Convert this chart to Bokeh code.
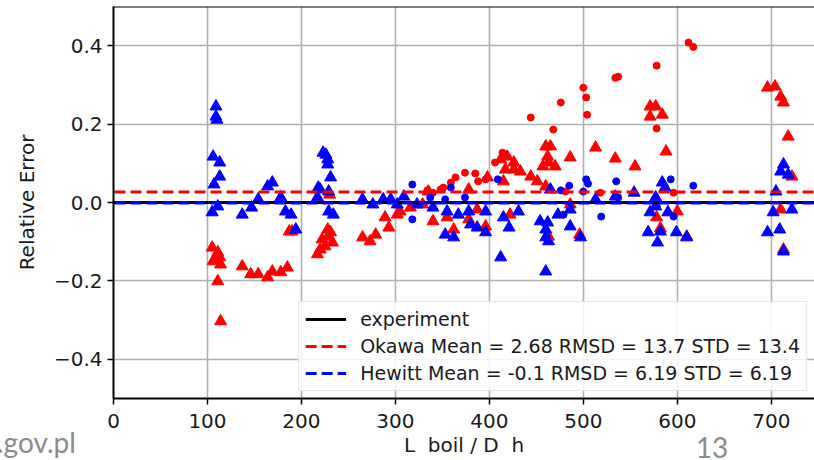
from bokeh.plotting import figure
from bokeh.models import (Legend, LegendItem, FixedTicker, CustomJSTickFormatter,
                          Range1d, Span)
from bokeh.embed import file_html
from bokeh.resources import INLINE

# ---------------- data ----------------
x_ticks = [0, 100, 200, 300, 400, 500, 600, 700]
y_ticks = [-0.4, -0.2, 0.0, 0.2, 0.4]

okawa_tri_x = [105, 111, 108, 114, 106, 111, 114, 113,
               137, 146, 154, 164, 169, 178, 185, 190, 187,
               217, 220, 222, 228, 231, 233, 225, 229, 230,
               265, 273, 279, 289, 293, 302, 305, 316, 329, 335, 340, 355, 362, 378, 378, 387, 396, 398,
               412, 419, 426, 417, 433, 426, 444, 451, 415, 457,
               460, 462, 465, 463, 470, 486, 513, 534, 555, 588,
               571, 577, 571, 584, 696, 704, 710, 713, 718, 722,
               422, 463, 486, 496, 578, 582, 600, 610, 710, 713, 460]
okawa_tri_y = [-0.115, -0.127, -0.145, -0.158, -0.150, -0.201, -0.303, -0.140,
               -0.163, -0.183, -0.183, -0.191, -0.176, -0.178, -0.166, -0.074, -0.074,
               -0.132, -0.120, -0.094, -0.069, -0.076, -0.102, -0.112, -0.087, 0.020,
               -0.089, -0.099, -0.082, -0.038, -0.064, -0.031, -0.023, -0.013, -0.005, 0.028,
               -0.048, -0.038, -0.069, 0.033, -0.043, -0.018, -0.061, 0.064,
               0.110, 0.117, 0.102, 0.084, 0.079, 0.084, 0.066, 0.054, 0.054, 0.092,
               0.143, 0.117, 0.143, 0.102, 0.092, 0.115, 0.140, 0.112, 0.092, 0.130,
               0.245, 0.245, 0.219, 0.224, 0.293, 0.296, 0.270, 0.255, 0.168, 0.066,
               -0.031, -0.087, -0.005, -0.082, -0.038, -0.066, -0.023, -0.087, -0.018, -0.120, 0.041]

okawa_dot_x = [334, 340, 348, 351, 359, 364, 374, 385, 388, 396,
               406, 414, 444, 468, 476, 500, 503, 504, 534, 537,
               578, 578, 612, 617, 481, 518, 596]
okawa_dot_y = [0.031, 0.025, 0.033, 0.038, 0.051, 0.064, 0.076, 0.074, 0.054, 0.059,
               0.102, 0.127, 0.217, 0.186, 0.255, 0.293, 0.268, 0.224, 0.318, 0.321,
               0.349, 0.189, 0.408, 0.397, 0.028, 0.025, 0.025]

hewitt_tri_x = [109, 109, 110, 106, 113, 113, 107, 111, 105,
                137, 147, 154, 164, 169, 178, 183, 189, 194,
                226, 223, 228, 228, 231, 218, 217, 229, 229, 234, 220,
                265, 276, 287, 295, 302, 309, 323,
                340, 355, 353, 362, 367, 378, 380, 387, 396, 396,
                412, 415, 421, 431, 454, 460, 460, 465, 462, 463,
                460, 473, 486, 486, 497, 513, 534, 554, 577, 584,
                587, 571, 590, 569, 582, 579, 599, 610, 577,
                713, 710, 718, 705, 702, 722, 709, 696, 713]
hewitt_tri_y = [0.245, 0.219, 0.211, 0.117, 0.102, 0.066, 0.046, -0.010, -0.025,
                -0.031, -0.013, 0.008, 0.041, 0.051, 0.013, -0.023, -0.031, -0.069,
                0.122, 0.127, 0.110, 0.097, 0.064, 0.038, 0.013, 0.028, -0.023, -0.031, 0.033,
                0.008, -0.005, 0.008, 0.008, -0.005, 0.015, -0.005,
                -0.013, -0.023, -0.082, -0.089, -0.031, -0.023, -0.056, -0.064, -0.076, -0.023,
                -0.140, -0.038, -0.064, -0.023, -0.048, -0.089, -0.176, 0.033, -0.051, -0.099,
                -0.069, -0.031, -0.018, -0.061, -0.089, 0.008, 0.015, 0.025, 0.013, 0.051,
                0.038, -0.025, -0.025, -0.076, -0.074, -0.102, -0.076, -0.089, -0.010,
                0.097, 0.079, 0.071, 0.028, -0.025, -0.018, -0.069, -0.076, -0.125]

hewitt_dot_x = [318, 318, 359, 409, 485, 503, 505, 535, 537, 519,
                578, 593, 617, 596, 500, 476, 479, 337, 353, 374]
hewitt_dot_y = [0.046, -0.043, 0.038, 0.059, 0.043, 0.059, 0.048, 0.054, 0.013, -0.036,
                -0.010, 0.059, 0.043, -0.036, 0.028, 0.031, -0.031, 0.013, 0.008, 0.013]

experiment_value = 0.0
okawa_mean = 2.68 / 100
hewitt_mean = -0.1 / 100

labels = ["experiment",
          "Okawa Mean = 2.68 RMSD = 13.7 STD = 13.4",
          "Hewitt Mean = -0.1 RMSD = 6.19 STD = 6.19"]
x_label = "L\u00a0 boil / D\u00a0 h"
y_label = "Relative Error"
footer_left = ".gov.pl"
footer_right = "13"

X_MIN, X_MAX = 0, 746
Y_MIN, Y_MAX = -0.5, 0.5

# ---------------- figure ----------------
FONT = "DejaVu Sans"
p = figure(width=814, height=460, output_backend="svg", toolbar_location=None,
           x_range=Range1d(X_MIN, X_MAX), y_range=Range1d(Y_MIN, Y_MAX),
           min_border_left=113, min_border_right=0, min_border_top=6,
           min_border_bottom=62)
p.outline_line_color = None
p.background_fill_color = "white"
p.border_fill_color = "white"

p.xaxis.ticker = FixedTicker(ticks=x_ticks)
p.yaxis.ticker = FixedTicker(ticks=y_ticks)
p.yaxis.formatter = CustomJSTickFormatter(
    code="return (tick < 0 ? '\u2212' : '') + Math.abs(tick).toFixed(1);")

for ax in (p.xaxis, p.yaxis):
    ax.axis_line_color = "black"
    ax.axis_line_width = 2
    ax.major_tick_line_color = "black"
    ax.major_tick_line_width = 1.5
    ax.major_tick_out = 6
    ax.major_tick_in = 0
    ax.minor_tick_line_color = None
    ax.major_label_text_font = FONT
    ax.major_label_text_font_size = "20px"
    ax.major_label_text_color = "#1a1a1a"
    ax.axis_label_text_font = FONT
    ax.axis_label_text_font_size = "20px"
    ax.axis_label_text_font_style = "normal"
    ax.axis_label_text_color = "#1a1a1a"

p.xaxis.major_label_standoff = 9
p.yaxis.major_label_standoff = 5
p.xaxis.axis_label = x_label
p.yaxis.axis_label = y_label
p.xaxis.axis_label_standoff = 2
p.yaxis.axis_label_standoff = 12

p.grid.grid_line_color = "#b0b0b0"
p.grid.grid_line_width = 1.6

# top spine
p.add_layout(Span(location=Y_MAX, dimension="width", line_color="black", line_width=2))

# ---------------- markers ----------------
p.scatter(okawa_tri_x, okawa_tri_y, marker="triangle", size=12,
          fill_color="red", line_color="red", line_width=1)
p.scatter(okawa_dot_x, okawa_dot_y, marker="circle", size=7,
          fill_color="red", line_color="red", line_width=1)
p.scatter(hewitt_tri_x, hewitt_tri_y, marker="triangle", size=12,
          fill_color="blue", line_color="blue", line_width=1)
p.scatter(hewitt_dot_x, hewitt_dot_y, marker="circle", size=7,
          fill_color="blue", line_color="blue", line_width=1)

# ---------------- reference / mean lines ----------------
line_x = [X_MIN - 50, X_MAX + 50]
r_exp = p.line(line_x, [experiment_value] * 2, line_color="black", line_width=3)
r_ok = p.line(line_x, [okawa_mean] * 2, line_color="red", line_width=3, line_dash="11 5")
r_hw = p.line(line_x, [hewitt_mean] * 2, line_color="blue", line_width=3, line_dash="11 5")

legend = Legend(items=[LegendItem(label=labels[0], renderers=[r_exp]),
                       LegendItem(label=labels[1], renderers=[r_ok]),
                       LegendItem(label=labels[2], renderers=[r_hw])],
                location="bottom_right")
legend.label_text_font = FONT
legend.label_text_font_size = "19px"
legend.label_text_color = "#1a1a1a"
legend.glyph_width = 41
legend.glyph_height = 22
legend.label_height = 22
legend.label_standoff = 14
legend.spacing = 5
legend.padding = 6
legend.margin = 7
legend.border_line_color = "#cccccc"
legend.border_line_width = 1.5
legend.background_fill_color = "white"
legend.background_fill_alpha = 0.85
p.add_layout(legend)

# ---------------- slide footer texts (outside the plot frame, as page text) ----------------
footer_css = ("position:absolute; z-index:10; font-family:Lato, 'Open Sans', sans-serif; "
              "font-size:28px; line-height:28px; color:#8c8c8c; white-space:nowrap; margin:0;")
footer_html = (
    '<div style="%s left:-3px; top:428px;">%s</div>' % (footer_css, footer_left) +
    '<div style="%s left:672px; top:433px; width:80px; text-align:center;">%s</div>'
    % (footer_css, footer_right)
)

html = file_html(p, INLINE)
html = html.replace("</body>", footer_html + "\n</body>", 1)
open("out.html", "w").write(html)
